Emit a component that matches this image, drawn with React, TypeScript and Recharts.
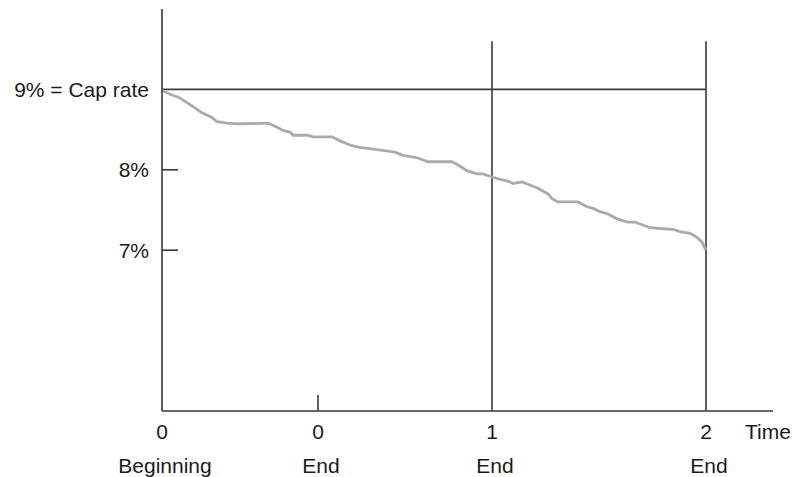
import { LineChart, Line, XAxis, YAxis, ReferenceLine } from 'recharts';

// time axis is in abstract units; beginning of year 0 = 0
const timeTicks = [0, 156, 330, 544];
const tickNumbers = ['0', '0', '1', '2'];
const tickWords = ['Beginning', 'End', 'End', 'End'];

const rateTicks = [7, 8, 9];
const capRate = 9;

// yield path
const times = [
    0, 1, 10, 17, 28, 40, 50, 55, 65, 75, 106, 115, 121, 128, 131, 145, 151, 170, 178, 190,
    198, 215, 233, 241, 255, 266, 275, 290, 296, 305, 315, 321, 330, 338, 346, 351, 360, 366,
    376, 386, 390, 396, 416, 425, 431, 438, 446, 455, 466, 473, 488, 498, 511, 518, 528, 535,
    540, 544,
];
const rates = [
    9.0, 8.98, 8.93, 8.9, 8.81, 8.71, 8.65, 8.6, 8.58, 8.57, 8.58, 8.53, 8.49, 8.47, 8.43, 8.43,
    8.41, 8.41, 8.36, 8.3, 8.28, 8.25, 8.22, 8.18, 8.15, 8.1, 8.1, 8.1, 8.06, 7.99, 7.95, 7.95,
    7.91, 7.88, 7.86, 7.83, 7.85, 7.82, 7.77, 7.7, 7.64, 7.6, 7.6, 7.54, 7.52, 7.48, 7.45, 7.39,
    7.35, 7.35, 7.28, 7.27, 7.26, 7.23, 7.21, 7.16, 7.1, 7.0,
];

const FONT = '"Liberation Sans", Arial, sans-serif';
const INK = '#1a1a1a';
const AXIS = '#3a3a3a';
const SW = 1.6;

const YTick = ({ x, y, payload }: any) => {
    const label = payload.value === capRate ? `${capRate}% = Cap rate` : `${payload.value}%`;
    return (
        <g>
            <text x={x} y={y} dy="0.35em" textAnchor="end" fontSize={21} fontFamily={FONT} fill={INK}>
                {label}
            </text>
            {payload.value !== capRate && (
                <line x1={x + 13} x2={x + 29} y1={y} y2={y} stroke={AXIS} strokeWidth={SW} />
            )}
        </g>
    );
};

const XTick = ({ x, y, index }: any) => (
    <g fontSize={21} fontFamily={FONT} fill={INK}>
        <text x={x} y={y + 28} textAnchor="middle">{tickNumbers[index]}</text>
        <text x={x + 3} y={y + 62} textAnchor="middle">{tickWords[index]}</text>
        {index === timeTicks.length - 1 && (
            <text x={x + 39} y={y + 28} textAnchor="start">Time</text>
        )}
    </g>
);

export default function App() {
    const data = times.map((t, i) => ({ t, rate: rates[i] }));

    return (
        <div style={{ position: 'absolute', left: 0, top: 0, background: '#fff' }}>
            <LineChart width={794} height={477} data={data} margin={{ top: 9, right: 21, left: 0, bottom: 0 }}>
                <XAxis
                    dataKey="t"
                    type="number"
                    domain={[0, 611]}
                    ticks={timeTicks}
                    height={66}
                    tickLine={false}
                    tickSize={0}
                    tickMargin={0}
                    stroke={AXIS}
                    strokeWidth={SW}
                    tick={<XTick />}
                    interval={0}
                />
                <YAxis
                    type="number"
                    domain={[5, 10]}
                    ticks={rateTicks}
                    width={162}
                    tickLine={false}
                    tickSize={0}
                    tickMargin={13}
                    stroke={AXIS}
                    strokeWidth={SW}
                    tick={<YTick />}
                    interval={0}
                />
                <ReferenceLine segment={[{ x: 0, y: capRate }, { x: 544, y: capRate }]} stroke={AXIS} strokeWidth={SW} />
                <ReferenceLine segment={[{ x: 156, y: 5 }, { x: 156, y: 5.2 }]} stroke={AXIS} strokeWidth={SW} />
                <ReferenceLine segment={[{ x: 330, y: 5 }, { x: 330, y: 9.6 }]} stroke={AXIS} strokeWidth={SW} />
                <ReferenceLine segment={[{ x: 544, y: 5 }, { x: 544, y: 9.6 }]} stroke={AXIS} strokeWidth={SW} />
                <Line
                    type="linear"
                    dataKey="rate"
                    stroke="#aaaaaa"
                    strokeWidth={2.8}
                    dot={false}
                    isAnimationActive={false}
                />
            </LineChart>
        </div>
    );
}
